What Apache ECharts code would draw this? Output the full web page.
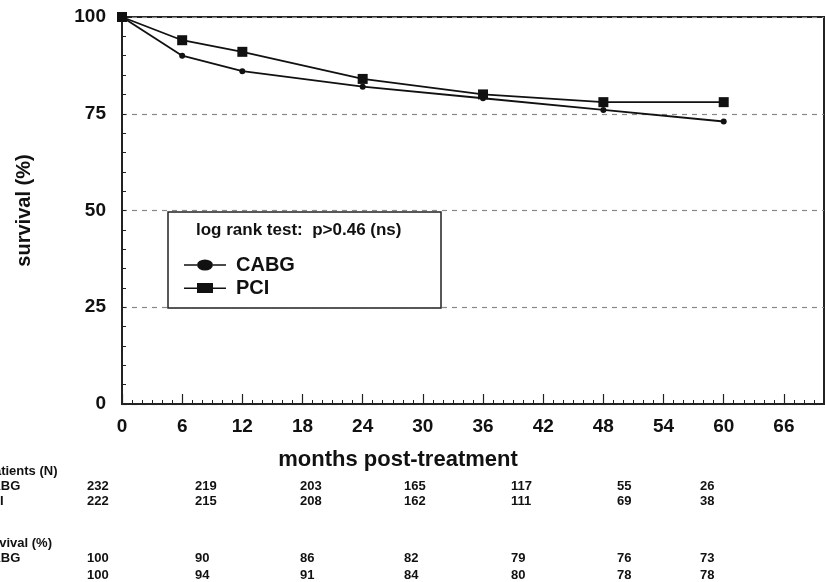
<!DOCTYPE html>
<html>
<head>
<meta charset="utf-8">
<script src="https://cdn.jsdelivr.net/npm/echarts@6/dist/echarts.min.js"></script>
<style>
  html, body { margin: 0; padding: 0; background: #fff; }
  #chart { width: 826px; height: 582px; }
</style>
</head>
<body>
<div id="chart"></div>
<script>
// survival curves (months, %)
var months = [0, 6, 12, 24, 36, 48, 60];
var cabgSurvival = [100, 90, 86, 82, 79, 76, 73];
var pciSurvival = [100, 94, 91, 84, 80, 78, 78];

// table under the chart
var tableRowLabels = ['patients (N)', 'CABG', 'PCI', 'survival (%)', 'CABG', ''];
var cabgPatients = [232, 219, 203, 165, 117, 55, 26];
var pciPatients = [222, 215, 208, 162, 111, 69, 38];
var cabgTable = [100, 90, 86, 82, 79, 76, 73];
var pciTable = [100, 94, 91, 84, 80, 78, 78];

var legendNote = 'log rank test:  p>0.46 (ns)';

// layout of the table (pixels)
var colX = [87, 195, 300, 404, 511, 617, 700];
var rowY = [471, 486, 501, 543, 558, 575];
var labelX = [-14, -18, -18, -21, -18, -18];

var FONT = '"Liberation Sans", Arial, Helvetica, sans-serif';

function toPairs(xs, ys) {
    return xs.map(function (x, i) { return [x, ys[i]]; });
}

var graphics = [];
// legend box
graphics.push({
    type: 'rect', z: 5,
    shape: { x: 168, y: 212, width: 273, height: 96 },
    style: { fill: '#fff', stroke: '#222', lineWidth: 1.5 }
});
graphics.push({
    type: 'text', z: 6, x: 196, y: 230,
    style: { text: legendNote, font: 'bold 17px ' + FONT, fill: '#111', verticalAlign: 'middle' }
});

// table
var rows = [null, cabgPatients, pciPatients, null, cabgTable, pciTable];
tableRowLabels.forEach(function (lab, r) {
    if (lab) {
        graphics.push({
            type: 'text', x: labelX[r], y: rowY[r],
            style: { text: lab, font: 'bold 13px ' + FONT, fill: '#111', verticalAlign: 'middle' }
        });
    }
    var vals = rows[r];
    if (!vals) return;
    vals.forEach(function (v, c) {
        graphics.push({
            type: 'text', x: colX[c], y: rowY[r],
            style: { text: String(v), font: 'bold 13px ' + FONT, fill: '#111', verticalAlign: 'middle' }
        });
    });
});

var myChart = echarts.init(document.getElementById('chart'));
var option = {
    animation: false,
    backgroundColor: '#fff',
    grid: {
        left: 122, right: 2, top: 17, bottom: 178,
        show: true, borderColor: '#222', borderWidth: 2, backgroundColor: 'transparent'
    },
    legend: {
        z: 10,
        orient: 'vertical',
        left: 179, top: 250,
        itemWidth: 42, itemHeight: 11, itemGap: 3,
        selectedMode: false,
        textStyle: { fontFamily: FONT, fontWeight: 'bold', fontSize: 20, color: '#111', padding: [0, 0, 0, 5] },
        data: [
            { name: 'CABG', icon: 'path://M0,5h13v1.6h-13zM29,5h13v1.6h-13zM13,5.8a8,5.5 0 1,0 16,0a8,5.5 0 1,0 -16,0z' },
            { name: 'PCI', icon: 'path://M0,5h13v1.6h-13zM29,5h13v1.6h-13zM13,0.5h16v10h-16z' }
        ]
    },
    xAxis: [{
        type: 'value', min: 0, max: 70, interval: 6,
        name: 'months post-treatment', nameLocation: 'middle', nameGap: 45,
        nameTextStyle: { fontFamily: FONT, fontWeight: 'bold', fontSize: 22, color: '#111', padding: [0, 150, 0, 0] },
        axisLine: { lineStyle: { color: '#222', width: 2 } },
        axisTick: { inside: true, length: 10, lineStyle: { color: '#222', width: 1.2 } },
        axisLabel: { showMaxLabel: false, margin: 13, fontFamily: FONT, fontWeight: 'bold', fontSize: 19, color: '#111' },
        splitLine: { show: false }
    }, {
        type: 'value', min: 0, max: 70, interval: 1, position: 'bottom',
        axisLine: { show: false },
        axisTick: { inside: true, length: 4, lineStyle: { color: '#222', width: 1 } },
        axisLabel: { show: false },
        splitLine: { show: false }
    }],
    yAxis: {
        type: 'value', min: 0, max: 100, interval: 25,
        name: 'survival (%)', nameLocation: 'middle', nameGap: 88,
        nameTextStyle: { fontFamily: FONT, fontWeight: 'bold', fontSize: 20, color: '#111' },
        axisLine: { show: true, lineStyle: { color: '#222', width: 2 } },
        axisTick: { show: true, inside: true, length: 4, lineStyle: { color: '#222' } },
        minorTick: { show: true, splitNumber: 5, length: 4, lineStyle: { color: '#222' } },
        axisLabel: { margin: 16, fontFamily: FONT, fontWeight: 'bold', fontSize: 19, color: '#111' },
        splitLine: { show: true, lineStyle: { color: '#888', type: [5, 5], width: 1.2 } }
    },
    series: [{
        name: 'CABG', type: 'line', xAxisIndex: 0,
        data: toPairs(months, cabgSurvival),
        symbol: 'circle', symbolSize: 6,
        itemStyle: { color: '#111' },
        lineStyle: { color: '#111', width: 1.8 }
    }, {
        name: 'PCI', type: 'line', xAxisIndex: 0,
        data: toPairs(months, pciSurvival),
        symbol: 'rect', symbolSize: 10,
        itemStyle: { color: '#111' },
        lineStyle: { color: '#111', width: 1.8 }
    }],
    graphic: graphics
};
myChart.setOption(option);
</script>
</body>
</html>
